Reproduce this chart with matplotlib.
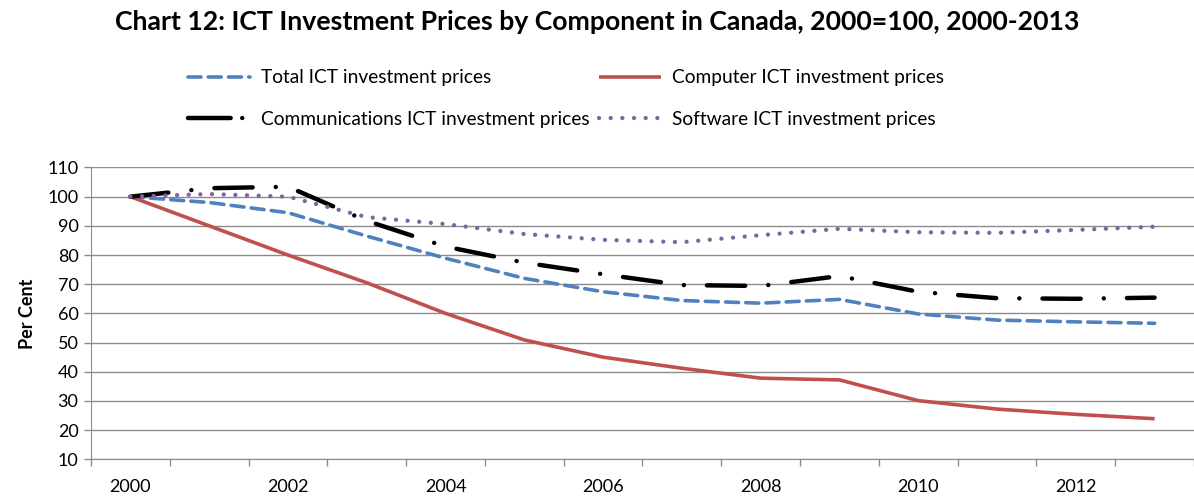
import matplotlib
matplotlib.use("Agg")
import matplotlib.pyplot as plt
from matplotlib.lines import Line2D
import numpy as np

plt.rcParams['font.family'] = ['Lato', 'DejaVu Sans']

# data, 2000=100
years = list(range(2000, 2014))
total = [100, 98.0, 94.5, 86.5, 78.9, 72.0, 67.4, 64.4, 63.5, 64.8, 59.8, 57.7, 57.1, 56.6]
computer = [100, 90.0, 80.0, 70.5, 60.0, 50.9, 45.0, 41.2, 37.8, 37.2, 30.1, 27.2, 25.4, 23.9]
comms = [100, 102.9, 103.4, 91.7, 82.9, 77.4, 73.4, 69.7, 69.4, 72.8, 67.4, 65.2, 65.0, 65.4]
software = [100, 100.9, 100.0, 93.0, 90.6, 87.2, 85.2, 84.4, 86.8, 89.0, 87.8, 87.6, 88.6, 89.7]

labels = ["Total ICT investment prices", "Computer ICT investment prices",
          "Communications ICT investment prices", "Software ICT investment prices"]
title = "Chart 12: ICT Investment Prices by Component in Canada, 2000=100, 2000-2013"

fig = plt.figure(figsize=(11.94, 4.97), dpi=100)
ax = fig.add_axes([0.0762, 0.0759, 0.9238, 0.5871])

x = np.arange(len(years))

    # series lines
l_total, = ax.plot(x, total, color='#4F81BD', lw=2.6, dashes=(3.6, 2.0),
                   dash_capstyle='round', solid_joinstyle='round')
l_comp, = ax.plot(x, computer, color='#C0504D', lw=2.6, solid_capstyle='butt',
                  solid_joinstyle='round')
l_comm, = ax.plot(x, comms, color='black', lw=3.2, dashes=(8.6, 5.2, 0.01, 5.2),
                  dash_capstyle='round')
l_soft, = ax.plot(x, software, color='#8064A2', lw=3.1, dashes=(0.01, 2.7),
                  dash_capstyle='round')

    # shorter legend handle shows dash + dot like excel does
h_comm = Line2D([], [], color='black', lw=3.2, dashes=(9.6, 2.6, 0.01, 20),
                dash_capstyle='round')

    # axes styling, excel-like category axis
ax.set_xlim(-0.5, len(years) - 0.5)
ax.set_ylim(10, 110)
ax.set_yticks(range(10, 111, 10))
ax.yaxis.grid(True, color='#8c8c8c', lw=1.0)
ax.set_axisbelow(True)
ax.set_xticks(x[::2])
ax.set_xticklabels([str(y) for y in years[::2]])
ax.set_xticks(np.arange(-0.5, len(years), 1.0), minor=True)
ax.tick_params(axis='x', which='major', length=0, labelsize=13, pad=14)
ax.tick_params(axis='x', which='minor', length=5, color='#8c8c8c', width=1)
ax.tick_params(axis='y', length=5, color='#8c8c8c', width=1, labelsize=13, pad=4)
for s in ['top', 'right']:
    ax.spines[s].set_visible(False)
ax.spines['left'].set_color('#8c8c8c')
ax.spines['bottom'].set_color('#8c8c8c')

ax.set_ylabel("Per Cent", fontsize=13, fontweight='bold', labelpad=8)

fig.text(0.5, 0.956, title, ha='center', va='center', fontsize=19.2, fontweight='bold')

    # legend fills column-wise, so order handles to get excel's row layout
fig.legend([l_total, h_comm, l_comp, l_soft],
           [labels[0], labels[2], labels[1], labels[3]], ncol=2, frameon=False,
           loc='upper left', bbox_to_anchor=(0.143, 0.895), fontsize=13.8,
           handlelength=3.25, handletextpad=0.55, columnspacing=0.5, labelspacing=1.27)

fig.savefig("out.png", dpi=100)
